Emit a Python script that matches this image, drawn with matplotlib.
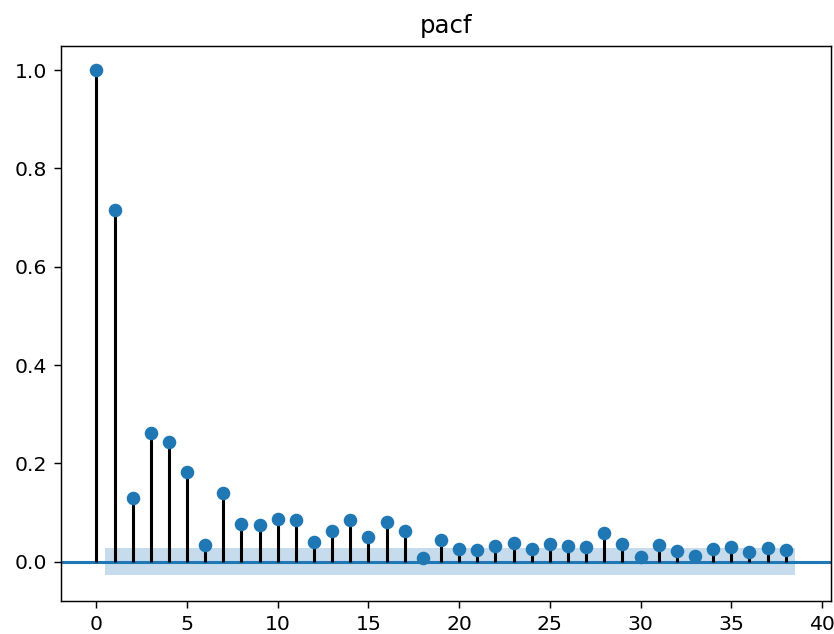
import numpy as np
import matplotlib
matplotlib.use("Agg")
import matplotlib.pyplot as plt

# valores de la autocorrelacion parcial
lags = list(range(39))
pacf = [1.0, 0.716, 0.129, 0.261, 0.243, 0.182, 0.034, 0.139, 0.077, 0.075,
        0.087, 0.084, 0.041, 0.062, 0.084, 0.051, 0.080, 0.062, 0.007, 0.044,
        0.025, 0.023, 0.032, 0.038, 0.026, 0.035, 0.032, 0.030, 0.058, 0.036,
        0.009, 0.033, 0.021, 0.012, 0.026, 0.029, 0.020, 0.027, 0.023]
conf = 0.027  # intervalo de confianza (+/-)

fig = plt.figure(figsize=(834 / 130, 634 / 130), dpi=130)
ax = fig.add_axes([61 / 834, 33 / 634, 770 / 834, 555 / 634])

# banda de confianza
band_x = np.array(lags[1:], dtype=float)
band_x[0] -= 0.5
band_x[-1] += 0.5
ax.fill_between(band_x, -conf, conf, color="C0", alpha=0.25, linewidth=0)

ax.axhline(0, color="C0", linewidth=1.7)
ax.vlines(lags, 0, pacf, color="black", linewidth=1.7)
ax.plot(lags, pacf, "o", color="C0", markersize=6.5)

ax.set_title("pacf", fontsize=13.5, pad=7)
ax.set_xlim(-1.95, 40.5)
ax.set_ylim(-0.08, 1.049)
ax.set_xticks([0, 5, 10, 15, 20, 25, 30, 35, 40])
ax.tick_params(labelsize=11.3, length=4)

plt.savefig("out.png")
